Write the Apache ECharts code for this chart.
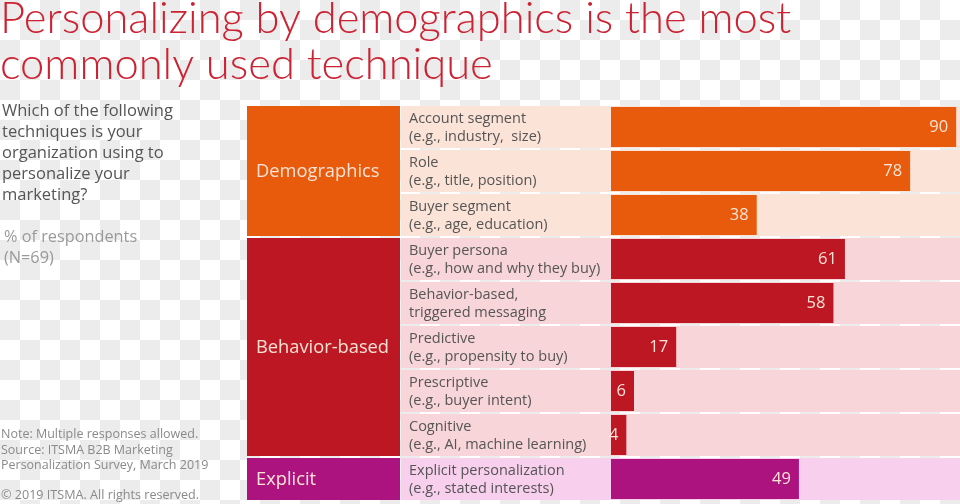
<!DOCTYPE html>
<html>
<head>
<meta charset="utf-8">
<script src="https://cdn.jsdelivr.net/npm/echarts@6/dist/echarts.min.js"></script>
<style>
  html, body { margin: 0; padding: 0; }
  body {
    width: 960px; height: 504px;
    background-color: #ffffff;
    background-image:
      linear-gradient(45deg, #ececec 25%, transparent 25%, transparent 75%, #ececec 75%),
      linear-gradient(45deg, #ececec 25%, transparent 25%, transparent 75%, #ececec 75%);
    background-size: 40px 40px;
    background-position: 20px 0, 0 20px;
  }
  #chart { width: 960px; height: 504px; }
</style>
</head>
<body>
<div id="chart"></div>
<script>
// ---- data ----
const groups = ['Demographics', 'Behavior-based', 'Explicit'];
const groupSizes = [3, 5, 1];
const categories = [
  'Account segment\n(e.g., industry,  size)',
  'Role\n(e.g., title, position)',
  'Buyer segment\n(e.g., age, education)',
  'Buyer persona\n(e.g., how and why they buy)',
  'Behavior-based,\ntriggered messaging',
  'Predictive\n(e.g., propensity to buy)',
  'Prescriptive\n(e.g., buyer intent)',
  'Cognitive\n(e.g., AI, machine learning)',
  'Explicit personalization\n(e.g., stated interests)'
];
const values = [90, 78, 38, 61, 58, 17, 6, 4, 49];
const titleLines = ['Personalizing by demographics is the most', 'commonly used technique'];
const questionLines = ['Which of the following', 'techniques is your', 'organization using to', 'personalize your', 'marketing?'];
const unitLines = ['% of respondents', '(N=69)'];
const noteLines = ['Note: Multiple responses allowed.', 'Source: ITSMA B2B Marketing', 'Personalization Survey, March 2019'];
const copyrightLine = '\u00A9 2019 ITSMA. All rights reserved.';

// ---- styles ----
const darkColors = ['#e85a0c', '#bd1723', '#ad137f'];
const lightColors = ['#fce3d7', '#f8d5d8', '#f8cfec'];
const FONT = '"Open Sans", Lato, sans-serif';
const TFONT = 'Lato, sans-serif';

// derived: group index per row, group start/end rows
const rowGroup = [];
const groupSpans = [];
groupSizes.forEach((n, g) => {
  const start = rowGroup.length;
  for (let k = 0; k < n; k++) rowGroup.push(g);
  groupSpans.push([start, start + n - 1, g]);
});

const chart = echarts.init(document.getElementById('chart'), null, { renderer: 'canvas' });

const GROUP_W = 153;   // table grid units (px-wide grid)
const LABEL_X = 154;

const option = {
  animation: false,
  backgroundColor: 'transparent',
  textStyle: { fontFamily: FONT },
  grid: [
    { left: 611, right: 0, top: 105, bottom: 3 },
    { left: 247, width: 364, top: 105, bottom: 3 }
  ],
  xAxis: [
    { gridIndex: 0, type: 'value', min: 0, max: 91, show: false },
    { gridIndex: 1, type: 'value', min: 0, max: 364, show: false }
  ],
  yAxis: [
    { gridIndex: 0, type: 'category', data: categories, inverse: true, show: false },
    { gridIndex: 1, type: 'category', data: categories, inverse: true, show: false }
  ],
  graphic: [
    {
      type: 'text', left: 0, top: -4,
      style: { text: titleLines.join('\n'), font: '300 43.5px ' + TFONT, lineHeight: 46, fill: '#cc2232' }
    },
    {
      type: 'text', left: 2, top: 101,
      style: { text: questionLines.join('\n'), font: '16.5px ' + FONT, lineHeight: 21, fill: '#555555' }
    },
    {
      type: 'text', left: 4, top: 227,
      style: { text: unitLines.join('\n'), font: '16.3px ' + FONT, lineHeight: 21, fill: '#9a9a9a' }
    },
    {
      type: 'text', left: 1, top: 427,
      style: { text: noteLines.join('\n'), font: '12.5px ' + FONT, lineHeight: 15.5, fill: '#8a8a8a' }
    },
    {
      type: 'text', left: 1, top: 489,
      style: { text: copyrightLine, font: '12.6px ' + FONT, fill: '#8a8a8a' }
    }
  ],
  series: [
    {
      type: 'custom', name: 'rows', xAxisIndex: 1, yAxisIndex: 1, z: 1,
      data: categories.map((c, i) => [LABEL_X, i]),
      renderItem: function (params, api) {
        const i = params.dataIndex;
        const p = api.coord([LABEL_X, i]);
        const band = api.size([0, 1])[1];
        const h = band - 2;
        return {
          type: 'group',
          children: [
            { type: 'rect', shape: { x: p[0], y: p[1] - h / 2, width: api.getWidth() - p[0], height: h },
              style: { fill: lightColors[rowGroup[i]] } },
            { type: 'text', z2: 5,
              style: { text: categories[i], x: p[0] + 8, y: p[1] + 1, verticalAlign: 'middle', align: 'left',
                       font: '14.5px ' + FONT, lineHeight: 18, fill: '#555555' } }
          ]
        };
      }
    },
    {
      type: 'custom', name: 'groups', xAxisIndex: 1, yAxisIndex: 1, z: 1,
      data: groupSpans.map(s => [0, s[0], s[1]]),
      renderItem: function (params, api) {
        const s = groupSpans[params.dataIndex];
        const p0 = api.coord([0, s[0]]);
        const p1 = api.coord([GROUP_W, s[1]]);
        const band = api.size([0, 1])[1];
        const top = p0[1] - band / 2 + 1;
        const bottom = p1[1] + band / 2 - 1;
        return {
          type: 'group',
          children: [
            { type: 'rect', shape: { x: p0[0], y: top, width: p1[0] - p0[0], height: bottom - top },
              style: { fill: darkColors[s[2]] } },
            { type: 'text', z2: 5,
              style: { text: groups[s[2]], x: p0[0] + 9, y: (top + bottom) / 2 + 1, verticalAlign: 'middle',
                       font: '18.3px ' + FONT, fill: '#fde3d6' } }
          ]
        };
      }
    },
    {
      type: 'bar', name: 'share', xAxisIndex: 0, yAxisIndex: 0, z: 3,
      barWidth: 40,
      data: values.map((v, i) => ({ value: v, itemStyle: { color: darkColors[rowGroup[i]] } })),
      label: {
        show: true, position: 'insideRight', distance: 8,
        color: '#fde3d6', fontSize: 16.5, fontFamily: FONT
      }
    }
  ]
};
chart.setOption(option);
</script>
</body>
</html>
